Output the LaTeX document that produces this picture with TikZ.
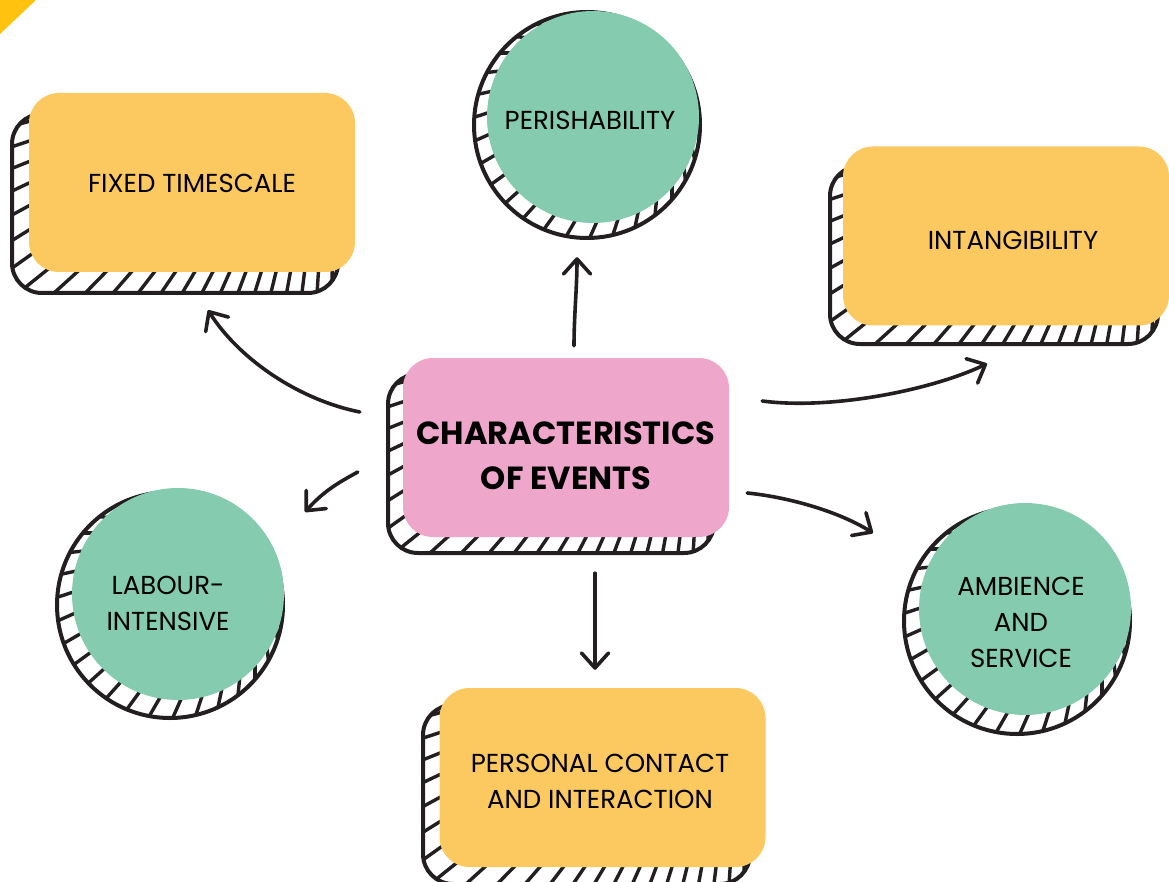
\documentclass[tikz,border=0pt]{standalone}
\usepackage{fontspec}
\setmainfont{Poppins}
\usetikzlibrary{arrows.meta}
\definecolor{ink}{HTML}{231F20}
\definecolor{yel}{HTML}{FCC960}
\definecolor{grn}{HTML}{84CBB0}
\definecolor{pnk}{HTML}{EEA7CB}
\definecolor{amber}{HTML}{FFC20E}
\tikzset{
  hatch/.style={ink, line width=3.4pt},
  outline/.style={ink, line width=4pt},
  ybox/.style={rectangle, rounded corners=30pt, fill=yel, minimum width=326pt, minimum height=179pt, inner sep=0pt},
  pbox/.style={rectangle, rounded corners=30pt, fill=pnk, minimum width=326pt, minimum height=179pt, inner sep=0pt},
  gcirc/.style={circle, fill=grn, minimum size=212pt, inner sep=0pt},
  txt/.style={font=\fontsize{26}{36}\selectfont, text=black, align=center, inner sep=0pt},
  ctxt/.style={font=\fontsize{32}{45}\selectfont\bfseries, text=black, align=center, inner sep=0pt},
  arr/.style={ink, line width=3.6pt, line cap=round, line join=round,
    -{Straight Barb[length=15pt, width=27pt, line cap=round, line join=round]}},
}
\newcommand\hatchrect[4]{%
  \begin{scope}
    \clip[rounded corners=30pt] (#1,#2) rectangle (#3,#4);
    \foreach \a in {80,83.4,...,182} \draw[hatch] (#3-5,#2-74) -- ++(\a:650);
  \end{scope}
  \draw[outline,rounded corners=30pt] (#1,#2) rectangle (#3,#4);}
\newcommand\hatchcirc[3]{%
  \begin{scope}
    \clip (#1,#2) circle[radius=#3pt];
    \foreach \a in {30,36,...,230} \draw[hatch] (#1+85,#2-72) -- ++(\a:420);
  \end{scope}
  \draw[outline] (#1,#2) circle[radius=#3pt];}
\begin{document}
\begin{tikzpicture}[x=1pt, y=-1pt]
\useasboundingbox (0,0) rectangle (1169,882);
% corner accent
\fill[amber] (0,0) -- (36,0) -- (0,34) -- cycle;
% shadows
\hatchrect{12}{114}{338}{293}
\hatchrect{388}{374}{714}{553}
\hatchrect{830}{166}{1158}{344}
\hatchrect{423}{705}{750}{884}
\hatchcirc{587}{125}{113}
\hatchcirc{170}{605}{113}
\hatchcirc{1017}{621}{113}
% shapes
\node[ybox] (fixed) at (192,182.5) {};
\node[ybox] (intang) at (1006,236) {};
\node[ybox] (pers) at (602.5,777.5) {};
\node[pbox] (cen) at (566,447.5) {};
\node[gcirc] (peri) at (593,117) {};
\node[gcirc] (labour) at (178,594) {};
\node[gcirc] (amb) at (1025,609) {};
% texts
\node[txt] (fixed-t) at (192,183) {FIXED TIMESCALE};
\node[txt] (intang-t) at (1013,240) {INTANGIBILITY};
\node[txt] (pers-t) at (600,781) {PERSONAL CONTACT\\AND INTERACTION};
\node[txt] (peri-t) at (590,120) {PERISHABILITY};
\node[txt] (labour-t) at (168,603) {LABOUR-\\INTENSIVE};
\node[txt] (amb-t) at (1021,622) {AMBIENCE\\AND\\SERVICE};
\node[ctxt] (cen-t) at (566,456) {CHARACTERISTICS\\OF EVENTS};
% connectors
\draw[arr] ([shift={(-43,-35.5)}]cen.west) .. controls +(-60,-12) and +(32,50) .. ([shift={(16,38)}]fixed.south);
\draw[arr] ([shift={(-45,24.5)}]cen.west) .. controls +(-22,12) and +(18,-20) .. ([shift={(127,-82)}]labour.center);
\draw[arr] ([shift={(8,-12)}]cen.north) .. controls +(0,-30) and +(0,30) .. ([shift={(-16,34)}]peri.south);
\draw[arr] ([shift={(29,36)}]cen.south) -- ([shift={(-7.5,-18)}]pers.north);
\draw[arr] ([shift={(33,-46.5)}]cen.east) .. controls +(68,9) and +(-57,27) .. ([shift={(-19,38)}]intang.south);
\draw[arr] ([shift={(18,45.5)}]cen.east) .. controls +(40,4) and +(-35,-22) .. ([shift={(-152,-76)}]amb.center);
\end{tikzpicture}
\end{document}
